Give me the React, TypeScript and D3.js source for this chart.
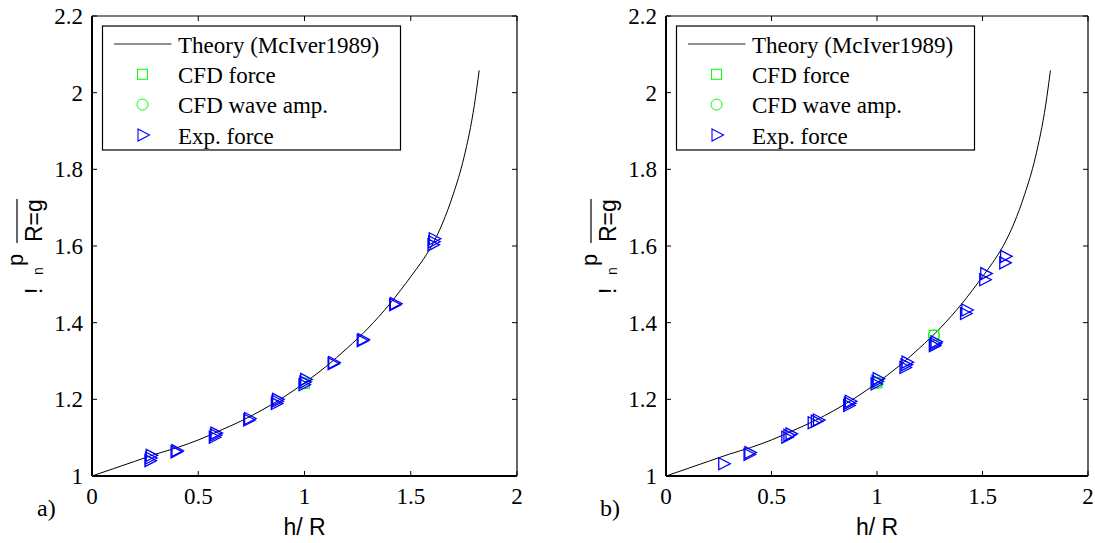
import React, { useEffect, useRef } from "react";
import * as d3 from "d3";

// Theory curve (McIver 1989)
const theoryX = [0, 0.1, 0.2, 0.3, 0.4, 0.5, 0.6, 0.7, 0.8, 0.9, 1.0, 1.1, 1.2, 1.3, 1.4, 1.5, 1.55, 1.6, 1.65, 1.7, 1.75, 1.8, 1.822];
const theoryY = [1.0, 1.019, 1.038, 1.057, 1.074, 1.094, 1.118, 1.143, 1.172, 1.205, 1.243, 1.285, 1.333, 1.386, 1.448, 1.52, 1.558, 1.602, 1.66, 1.735, 1.83, 1.97, 2.058];

const xTicks = [0, 0.5, 1, 1.5, 2];
const yTicks = [1, 1.2, 1.4, 1.6, 1.8, 2, 2.2];
const xTickLabels = ["0", "0.5", "1", "1.5", "2"];
const yTickLabels = ["1", "1.2", "1.4", "1.6", "1.8", "2", "2.2"];

const legendLabels = ["Theory (McIver1989)", "CFD force", "CFD wave amp.", "Exp. force"];

// panel a)
const expForceA = [
  [0.275, 1.04], [0.278, 1.047], [0.281, 1.054],
  [0.398, 1.063], [0.402, 1.066],
  [0.578, 1.101], [0.583, 1.107], [0.586, 1.112],
  [0.74, 1.146], [0.744, 1.15],
  [0.87, 1.189], [0.873, 1.195], [0.876, 1.2],
  [1.0, 1.238], [1.004, 1.245], [1.008, 1.252],
  [1.137, 1.293], [1.14, 1.296],
  [1.274, 1.353], [1.278, 1.356],
  [1.427, 1.447], [1.43, 1.45],
  [1.607, 1.603], [1.61, 1.611], [1.613, 1.619],
];
const cfdForceA = [[1.0, 1.242]];
const cfdWaveA = [[1.0, 1.242]];

// panel b)
const expForceB = [
  [0.276, 1.032],
  [0.396, 1.056], [0.4, 1.061],
  [0.575, 1.101], [0.585, 1.106], [0.595, 1.11],
  [0.7, 1.139], [0.715, 1.143], [0.725, 1.146],
  [0.868, 1.184], [0.872, 1.19], [0.876, 1.195],
  [0.998, 1.24], [1.003, 1.247], [1.008, 1.254],
  [1.135, 1.283], [1.14, 1.29], [1.145, 1.297],
  [1.274, 1.34], [1.278, 1.345], [1.282, 1.35],
  [1.422, 1.424], [1.428, 1.433],
  [1.513, 1.512], [1.518, 1.528],
  [1.608, 1.556], [1.612, 1.573],
];
const cfdForceB = [[1.0, 1.243], [1.27, 1.367]];
const cfdWaveB = [[1.0, 1.243], [1.27, 1.367]];

const serif = "'Liberation Serif', 'Times New Roman', serif";
const sans = "'Liberation Sans', Arial, sans-serif";
const GREEN = "#00ff00";
const BLUE = "#0000ff";
const triPath = "M-5.5,-6L6,0L-5.5,6Z";

function drawPanel(svg, opts) {
  const { left, right, top, bottom, tag, tagX, expForce, cfdForce, cfdWave } = opts;
  const x = d3.scaleLinear().domain([0, 2]).range([left, right]);
  const y = d3.scaleLinear().domain([1, 2.2]).range([bottom, top]);
  const g = svg.append("g");

  // theory curve
  const pts = theoryX.map((v, i) => [v, theoryY[i]]);
  g.append("path")
    .datum(pts)
    .attr("fill", "none")
    .attr("stroke", "#000")
    .attr("stroke-width", 1)
    .attr("d", d3.line().x(d => x(d[0])).y(d => y(d[1])).curve(d3.curveMonotoneX));

  // CFD markers
  g.selectAll(".sq")
    .data(cfdForce)
    .join("rect")
    .attr("x", d => x(d[0]) - 5)
    .attr("y", d => y(d[1]) - 5)
    .attr("width", 10)
    .attr("height", 10)
    .attr("fill", "none")
    .attr("stroke", GREEN)
    .attr("stroke-width", 1);

  g.selectAll(".ci")
    .data(cfdWave)
    .join("circle")
    .attr("cx", d => x(d[0]))
    .attr("cy", d => y(d[1]))
    .attr("r", 5.5)
    .attr("fill", "none")
    .attr("stroke", GREEN)
    .attr("stroke-width", 1);

  // experiment markers
  g.selectAll(".tri")
    .data(expForce)
    .join("path")
    .attr("d", triPath)
    .attr("transform", d => `translate(${x(d[0])},${y(d[1])})`)
    .attr("fill", "none")
    .attr("stroke", BLUE)
    .attr("stroke-width", 1.3);

  // box
  g.append("line").attr("x1", left).attr("x2", right).attr("y1", top).attr("y2", top).attr("stroke", "#000").attr("stroke-width", 1.2);
  g.append("line").attr("x1", right).attr("x2", right).attr("y1", top).attr("y2", bottom).attr("stroke", "#000").attr("stroke-width", 1.2);
  g.append("line").attr("x1", left).attr("x2", right).attr("y1", bottom).attr("y2", bottom).attr("stroke", "#000").attr("stroke-width", 2);
  g.append("line").attr("x1", left).attr("x2", left).attr("y1", top).attr("y2", bottom).attr("stroke", "#000").attr("stroke-width", 2);

  // ticks (inward, all sides)
  const tl = 5;
  xTicks.forEach((t, i) => {
    const px = x(t);
    g.append("line").attr("x1", px).attr("x2", px).attr("y1", bottom).attr("y2", bottom - tl).attr("stroke", "#000");
    g.append("line").attr("x1", px).attr("x2", px).attr("y1", top).attr("y2", top + tl).attr("stroke", "#000");
    g.append("text")
      .attr("x", px)
      .attr("y", bottom + 28)
      .attr("text-anchor", "middle")
      .attr("font-family", serif)
      .attr("font-size", 23)
      .text(xTickLabels[i]);
  });
  yTicks.forEach((t, i) => {
    const py = y(t);
    g.append("line").attr("x1", left).attr("x2", left + tl).attr("y1", py).attr("y2", py).attr("stroke", "#000");
    g.append("line").attr("x1", right).attr("x2", right - tl).attr("y1", py).attr("y2", py).attr("stroke", "#000");
    g.append("text")
      .attr("x", left - 9)
      .attr("y", py + 8)
      .attr("text-anchor", "end")
      .attr("font-family", serif)
      .attr("font-size", 23)
      .text(yTickLabels[i]);
  });

  // legend
  const lx = left + 10.5, ly = top + 10, lw = 298, lh = 124;
  const lg = g.append("g");
  lg.append("rect")
    .attr("x", lx).attr("y", ly).attr("width", lw).attr("height", lh)
    .attr("fill", "#fff").attr("stroke", "#000").attr("stroke-width", 1.2);
  const rowY = [18, 48.3, 78.6, 109];
  const mx = lx + 40;
  lg.append("line")
    .attr("x1", lx + 11.5).attr("x2", lx + 69).attr("y1", ly + rowY[0]).attr("y2", ly + rowY[0])
    .attr("stroke", "#222").attr("stroke-width", 1);
  lg.append("rect")
    .attr("x", mx - 5).attr("y", ly + rowY[1] - 5).attr("width", 10).attr("height", 10)
    .attr("fill", "none").attr("stroke", GREEN);
  lg.append("circle")
    .attr("cx", mx).attr("cy", ly + rowY[2]).attr("r", 5.5)
    .attr("fill", "none").attr("stroke", GREEN);
  lg.append("path")
    .attr("d", triPath)
    .attr("transform", `translate(${mx + 1},${ly + rowY[3]})`)
    .attr("fill", "none").attr("stroke", BLUE).attr("stroke-width", 1.1);
  legendLabels.forEach((s, i) => {
    lg.append("text")
      .attr("x", lx + 75.5)
      .attr("y", ly + rowY[i] + 8.5)
      .attr("font-family", serif)
      .attr("font-size", 23)
      .text(s);
  });

  // x label
  g.append("text")
    .attr("x", (left + right) / 2)
    .attr("y", 535)
    .attr("text-anchor", "middle")
    .attr("font-family", sans)
    .attr("font-size", 23)
    .text("h/ R");

  // y label (broken TeX glyphs as rendered)
  const yl = g.append("g").attr("transform", `translate(${left - 50},294) rotate(-90)`);
  yl.append("text").attr("x", 0).attr("y", 0).attr("font-family", sans).attr("font-size", 23).text("!");
  yl.append("text").attr("x", 19).attr("y", 1).attr("font-family", sans).attr("font-size", 14).text("n");
  yl.append("text").attr("x", 28).attr("y", -19).attr("font-family", sans).attr("font-size", 22).text("p");
  yl.append("text").attr("x", 52).attr("y", 0).attr("font-family", sans).attr("font-size", 23).text("R=g");
  yl.append("line").attr("x1", 51).attr("x2", 95).attr("y1", -25).attr("y2", -25).attr("stroke", "#000").attr("stroke-width", 1.2);

  // panel tag
  g.append("text")
    .attr("x", tagX)
    .attr("y", 516)
    .attr("font-family", serif)
    .attr("font-size", 24)
    .text(tag);
}

export default function App() {
  const ref = useRef(null);
  useEffect(() => {
    const svg = d3.select(ref.current);
    svg.selectAll("*").remove();
    drawPanel(svg, {
      left: 92, right: 517, top: 16, bottom: 476, tag: "a)", tagX: 37,
      expForce: expForceA, cfdForce: cfdForceA, cfdWave: cfdWaveA,
    });
    drawPanel(svg, {
      left: 666, right: 1088, top: 16, bottom: 476, tag: "b)", tagX: 600,
      expForce: expForceB, cfdForce: cfdForceB, cfdWave: cfdWaveB,
    });
  }, []);
  return (
    <svg
      ref={ref}
      width={1095}
      height={543}
      style={{ position: "absolute", left: 0, top: 0, background: "#fff" }}
    />
  );
}
